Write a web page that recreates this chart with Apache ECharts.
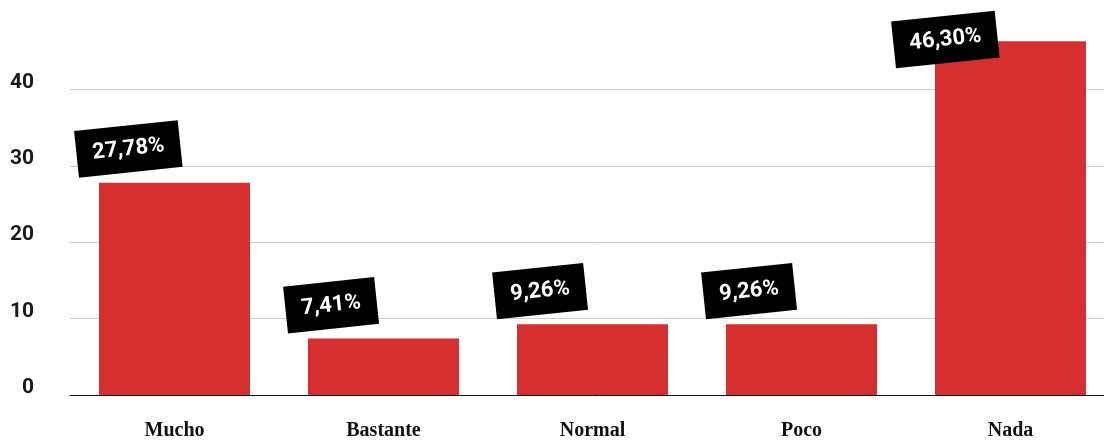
<!DOCTYPE html>
<html>
<head>
<meta charset="utf-8">
<script src="https://cdn.jsdelivr.net/npm/echarts@6/dist/echarts.min.js"></script>
<style>
html,body{margin:0;padding:0;background:#fff;overflow:hidden;}
#wrap{width:1104px;height:441px;overflow:hidden;}
#chart{width:1115px;height:441px;}
</style>
</head>
<body>
<div id="wrap"><div id="chart"></div></div>
<script>
const categories = ['Mucho', 'Bastante', 'Normal', 'Poco', 'Nada'];
const values = [27.78, 7.41, 9.26, 9.26, 46.30];
const yTicks = [0, 10, 20, 30, 40];

const fmt = v => v.toFixed(2).replace('.', ',') + '%';

const chart = echarts.init(document.getElementById('chart'), null, {renderer: 'canvas'});

const seriesData = values.map((v, i) => {
  const item = {value: v};
  if (i === values.length - 1) {
    item.label = {position: [-39, 27]};
  }
  return item;
});

chart.setOption({
  animation: false,
  grid: {left: 70, right: 0, top: 13, height: 385, containLabel: false},
  xAxis: {
    type: 'category',
    data: categories,
    axisLine: {show: true, lineStyle: {color: '#111', width: 1}},
    axisTick: {show: false},
    axisLabel: {
      margin: 26,
      fontFamily: '"Liberation Serif", serif',
      fontWeight: 'bold',
      fontSize: 20,
      lineHeight: 20,
      color: '#111'
    }
  },
  yAxis: {
    type: 'value',
    min: 0,
    max: 50,
    interval: 10,
    axisLine: {show: false},
    axisTick: {show: false},
    splitLine: {show: true, showMinLine: false, showMaxLine: false, lineStyle: {color: '#cccccc', width: 1}},
    axisLabel: {
      showMaxLabel: false,
      margin: 36,
      fontFamily: 'Roboto, sans-serif',
      fontWeight: 'bold',
      fontSize: 21,
      color: '#1a1a1a',
      verticalAlign: 'bottom',
      lineHeight: 14,
      formatter: v => (yTicks.indexOf(v) >= 0 ? String(v) : '')
    }
  },
  series: [{
    type: 'bar',
    data: seriesData,
    barWidth: 151,
    itemStyle: {color: '#d62f2f'},
    label: {
      show: true,
      position: [-20, -5],
      align: 'left',
      verticalAlign: 'bottom',
      rotate: 6,
      formatter: p => fmt(p.value),
      fontFamily: 'Roboto, sans-serif',
      fontWeight: 'bold',
      fontSize: 22,
      lineHeight: 22,
      color: '#fff',
      backgroundColor: '#000',
      padding: [13, 16, 12, 16]
    }
  }]
});
</script>
</body>
</html>
